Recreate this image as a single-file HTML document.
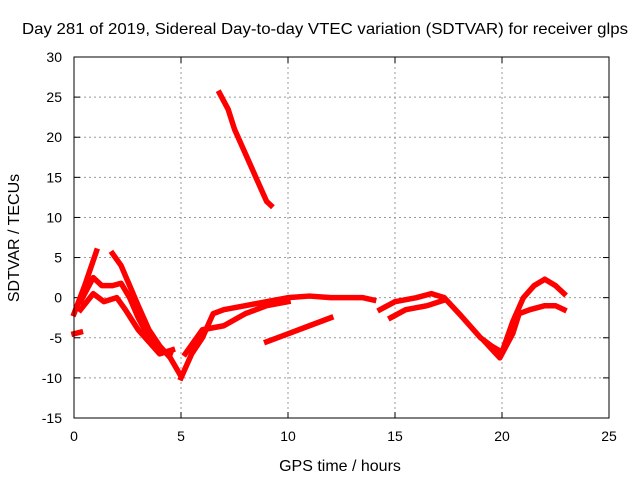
<!DOCTYPE html>
<html><head><meta charset="utf-8"><style>
body{margin:0;background:#fff}
svg{display:block;font-family:"Liberation Sans",sans-serif;font-size:14px}
</style></head><body>
<svg id="chart" width="640" height="480">
<rect width="640" height="480" fill="#fff"/>
<text x="325" y="34" text-anchor="middle" font-size="16" textLength="606" lengthAdjust="spacingAndGlyphs">Day 281 of 2019, Sidereal Day-to-day VTEC variation (SDTVAR) for receiver glps</text>
<text x="340" y="471" text-anchor="middle" font-size="16">GPS time / hours</text>
<text transform="translate(19,238) rotate(-90)" text-anchor="middle" font-size="16">SDTVAR / TECUs</text>
<g id="grid"></g><g id="ticks"></g><g id="series"></g>
<rect x="74" y="57" width="535" height="361" fill="none" stroke="#000" stroke-width="1"/>
</svg>
<script>
const xTicks=[0,5,10,15,20,25];
const yTicks=[30,25,20,15,10,5,0,-5,-10,-15];
const seriesA=[[0,-2],[0.5,1.5],[1.05,5.8]];
const seriesB=[[1.8,5.5],[2.2,4],[2.6,1.5],[3,-1],[3.5,-4],[4,-6],[4.5,-7.5],[5,-9.8]];
const seriesC=[[0.3,-0.5],[0.9,2.5],[1.3,1.5],[1.8,1.5],[2.2,1.8],[2.6,0],[3,-2.5],[3.5,-5],[4,-6.5],[4.5,-7]];
const seriesD=[[0.3,-1.5],[0.9,0.5],[1.4,-0.5],[2,0],[2.4,-1.5],[3,-4],[3.5,-5.5],[4,-7],[4.6,-6.5]];
const seriesE=[[5,-10],[5.5,-7],[6,-5],[6.5,-2],[7,-1.5],[8,-1],[9,-0.5],[10,0],[11,0.2],[12,0],[13,0],[13.5,0],[14,-0.3]];
const seriesF=[[5.2,-7],[6,-4],[7,-3.5],[8,-2],[9,-1],[10,-0.5]];
const seriesG=[[9,-5.5],[10,-4.5],[11,-3.5],[12,-2.5]];
const seriesH=[[6.8,25.5],[7.2,23.5],[7.5,21],[8,18],[8.5,15],[9,12],[9.2,11.5]];
const seriesI=[[0,-4.5],[0.3,-4.3]];
const seriesJ=[[14.3,-1.5],[15,-0.5],[16,0],[16.7,0.5],[17.3,0],[18,-2],[19,-5],[19.5,-6],[20,-6.8],[20.5,-3],[21,0],[21.5,1.5],[22,2.3],[22.5,1.5],[22.9,0.5]];
const seriesK=[[14.8,-2.5],[15.5,-1.5],[16.5,-1],[17.3,-0.3]];
const seriesL=[[19.2,-5.5],[19.9,-7.5],[20.5,-4.5],[20.8,-2],[21.3,-1.5],[22,-1],[22.5,-1],[22.9,-1.5]];
const allSeries=[seriesA,seriesB,seriesC,seriesD,seriesE,seriesF,seriesG,seriesH,seriesI,seriesJ,seriesK,seriesL];
const X0=74,X1=609,Y0=418,Y1=57;
const sx=v=>X0+(v-0)/(25-0)*(X1-X0);
const sy=v=>Y0-(v+15)/(45)*(Y0-Y1);
const NS="http://www.w3.org/2000/svg";
const grid=document.getElementById('grid'),ticks=document.getElementById('ticks'),ser=document.getElementById('series');
function mk(tag,attrs,parent){const e=document.createElementNS(NS,tag);for(const k in attrs)e.setAttribute(k,attrs[k]);parent.appendChild(e);return e;}
xTicks.forEach(t=>{
 const x=sx(t);
 if(t>0&&t<25){const g=mk('line',{x1:x,x2:x,y1:Y1,y2:Y0,stroke:'#999','stroke-dasharray':'2,3'},grid);
 
 }
 mk('line',{x1:x,x2:x,y1:Y0,y2:Y0-6,stroke:'#000'},ticks);
 mk('line',{x1:x,x2:x,y1:Y1,y2:Y1+6,stroke:'#000'},ticks);
 const l=mk('text',{x:x,y:Y0+23,'text-anchor':'middle'},ticks);l.textContent=t;
 
 
});
yTicks.forEach(t=>{
 const y=sy(t);
 if(t>-15&&t<30){const g=mk('line',{x1:X0,x2:X1,y1:y,y2:y,stroke:'#999','stroke-dasharray':'2,3'},grid);
 
 }
 mk('line',{x1:X0,x2:X0+6,y1:y,y2:y,stroke:'#000'},ticks);
 mk('line',{x1:X1,x2:X1-6,y1:y,y2:y,stroke:'#000'},ticks);
 const l=mk('text',{x:X0-12,y:y+5,'text-anchor':'end'},ticks);l.textContent=t;
 
 
});
allSeries.forEach((s,i)=>{
 const p=mk('polyline',{points:s.map(d=>sx(d[0])+','+sy(d[1])).join(' '),fill:'none',stroke:'#f00','stroke-width':5.5,'stroke-linejoin':'round','stroke-linecap':'square'},ser);
 
 
});
</script>
</body></html>
